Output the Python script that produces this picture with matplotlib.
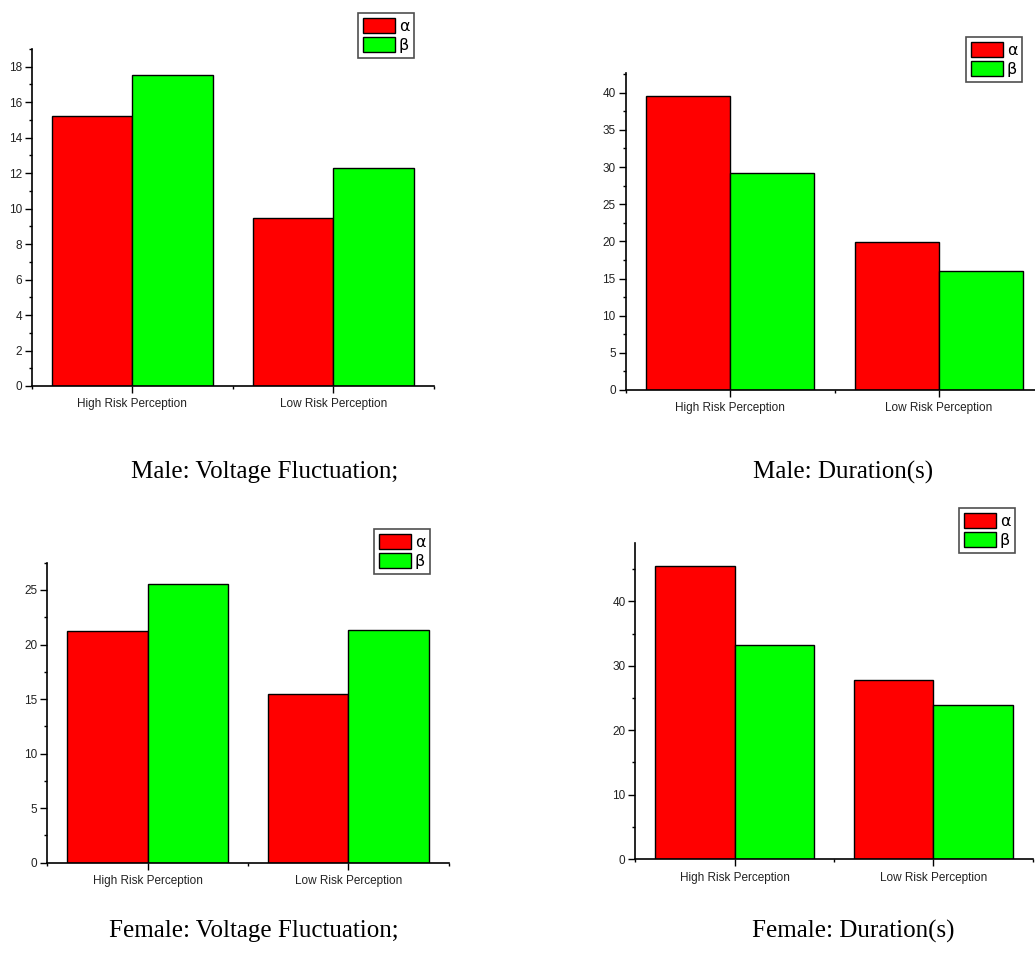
import numpy as np
import matplotlib
matplotlib.use("Agg")
import matplotlib.pyplot as plt
from matplotlib.ticker import MultipleLocator

# --- Data ---------------------------------------------------------------------
CATEGORIES = ["High Risk Perception", "Low Risk Perception"]
SERIES     = ["α", "β"]
COLORS     = ["#ff0000", "#00ff00"]

male_voltage_alpha   = [15.25, 9.45]
male_voltage_beta    = [17.55, 12.30]
male_duration_alpha  = [39.5, 19.85]
male_duration_beta   = [29.2, 15.95]
female_voltage_alpha = [21.27, 15.45]
female_voltage_beta  = [25.55, 21.33]
female_duration_alpha = [45.5, 27.8]
female_duration_beta  = [33.16, 23.83]

CAPTIONS = ["Male: Voltage Fluctuation;", "Male: Duration(s)",
            "Female: Voltage Fluctuation;", "Female: Duration(s)"]

# --- Layout (pixels in a 1035x958 canvas) -------------------------------------
W, H = 1035, 958

def px_axes(fig, left, right, top, bottom):
    return fig.add_axes([left / W, (H - bottom) / H, (right - left) / W, (bottom - top) / H])


def draw_panel(ax, alpha_vals, beta_vals, ymax, major, minor, legend_xy):
    x = np.arange(1, len(CATEGORIES) + 1)
    width = 0.4
    ax.bar(x - width / 2, alpha_vals, width, color=COLORS[0], edgecolor="black",
           linewidth=1.0, label=SERIES[0])
    ax.bar(x + width / 2, beta_vals, width, color=COLORS[1], edgecolor="black",
           linewidth=1.0, label=SERIES[1])

    ax.set_xlim(0.5, len(CATEGORIES) + 0.5)
    ax.set_ylim(0, ymax)
    ax.set_xticks(x)
    ax.set_xticklabels(CATEGORIES)
    ax.set_xticks(np.arange(0.5, len(CATEGORIES) + 1, 1.0), minor=True)
    ax.yaxis.set_major_locator(MultipleLocator(major))
    ax.yaxis.set_minor_locator(MultipleLocator(minor))

    for side in ("top", "right"):
        ax.spines[side].set_visible(False)
    for side in ("left", "bottom"):
        ax.spines[side].set_linewidth(1.2)

    ax.tick_params(axis="both", which="major", direction="out", length=5, width=1,
                   labelsize=8.5, colors="black")
    ax.tick_params(axis="y", which="major", pad=2)
    ax.tick_params(axis="x", which="major", pad=4)
    ax.tick_params(axis="both", which="minor", direction="out", length=2.5, width=1)
    for lbl in ax.get_xticklabels() + ax.get_yticklabels():
        lbl.set_fontfamily("Liberation Sans")
        lbl.set_color("#222222")

    leg = ax.legend(loc="upper left", bbox_to_anchor=(legend_xy[0] / W, (H - legend_xy[1]) / H),
                    bbox_transform=ax.figure.transFigure, frameon=True, fancybox=False,
                    prop={"family": "DejaVu Sans", "size": 11.5},
                    handlelength=2.0, handleheight=1.1, handletextpad=0.25,
                    labelspacing=0.2, borderpad=0.3, borderaxespad=0)
    leg.get_frame().set_edgecolor("#222222")
    leg.get_frame().set_linewidth(1.2)


fig = plt.figure(figsize=(W / 100, H / 100), dpi=100)
fig.patch.set_facecolor("white")

ax1 = px_axes(fig, 31.7, 433.8, 49, 386)
draw_panel(ax1, male_voltage_alpha, male_voltage_beta, 19, 2, 1, (358, 13))

ax2 = px_axes(fig, 625.5, 1043.5, 72.7, 390)
draw_panel(ax2, male_duration_alpha, male_duration_beta, 42.7, 5, 2.5, (966, 37))

ax3 = px_axes(fig, 47.3, 448.7, 562.7, 862.7)
draw_panel(ax3, female_voltage_alpha, female_voltage_beta, 27.5, 5, 2.5, (374, 529))

ax4 = px_axes(fig, 635.3, 1032.7, 543.3, 859)
draw_panel(ax4, female_duration_alpha, female_duration_beta, 49, 10, 5, (959, 508))

# --- Captions -----------------------------------------------------------------
caption_pos = [(265, 472), (843, 472), (254, 931), (853, 931)]
for text, (cx, cy) in zip(CAPTIONS, caption_pos):
    fig.text(cx / W, (H - cy) / H, text, ha="center", va="center",
             fontsize=18, family="Liberation Serif", color="black")

fig.savefig("out.png", dpi=100)
